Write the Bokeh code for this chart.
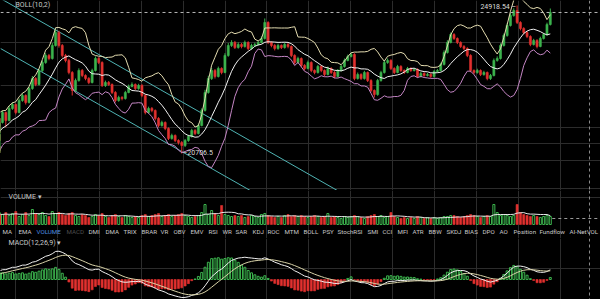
import numpy as np
import pandas as pd
from bokeh.plotting import figure
from bokeh.models import Range1d, Label, Span, FixedTicker, ColumnDataSource, Grid
from bokeh.layouts import column
from bokeh.embed import file_html
from bokeh.resources import INLINE

# ---------------- data ----------------
bar_index = list(range(-12, 166))

opens = [20850, 20792, 20906, 20735, 21077, 21247, 21077, 21418, 21532, 21304, 21703, 21475,
         21589, 21874, 21646, 21987, 22101, 21874, 22215, 22357, 22158, 22556,
         22841, 22670, 23069, 23296, 23496, 23410, 23780, 24150, 23780, 23496,
         23353, 23012, 22500, 22784, 23069, 22926, 22841, 22727, 23069, 23410,
         23296, 22642, 22727, 22670, 22443, 22215, 22300, 22272, 22443, 22613,
         22670, 22556, 22642, 22357, 21874, 21987, 21930, 21703, 21504, 21589,
         21418, 21134, 21219, 21077, 21020, 20934, 21077, 21190, 21361, 21276,
         21504, 21930, 22443, 22841, 23069, 22898, 23126, 23012, 23496, 23780,
         23866, 23723, 23809, 23752, 23866, 23695, 23780, 23809, 23866, 23980,
         24435, 23866, 23780, 23695, 23780, 23723, 23809, 23752, 23496, 23296,
         23410, 23211, 23126, 23296, 23069, 23012, 23183, 23069, 22955, 23126,
         23012, 22898, 23069, 23183, 23353, 23467, 23524, 22841, 22955, 22841,
         23012, 22784, 22500, 22386, 22784, 23012, 23296, 23353, 23126, 23012,
         23183, 23069, 23012, 23126, 23069, 23097, 22898, 22983, 22926, 22955,
         22898, 23040, 23069, 23240, 23581, 23866, 24093, 23980, 23866, 23752,
         23695, 23496, 23069, 23012, 23069, 22955, 23012, 22841, 22926, 23353,
         23410, 23780, 24065, 24350, 24634, 24776, 24435, 24264, 24150, 24036,
         23809, 23923, 23752, 23980, 24093, 24378]

highs = [20900, 20960, 20950, 21120, 21300, 21290, 21470, 21580, 21560, 21750, 21720, 21640,
         21930, 21900, 22060, 22160, 22130, 22270, 22420, 22390, 22600, 22910,
         22880, 23120, 23350, 23560, 23540, 23850, 24264, 24200, 23820, 23540,
         23400, 23050, 22840, 23130, 23110, 22960, 22880, 23120, 23470, 23450,
         23330, 22780, 22770, 22700, 22480, 22350, 22340, 22490, 22670, 22730,
         22700, 22690, 22680, 22390, 22040, 22030, 21960, 21740, 21640, 21620,
         21450, 21270, 21250, 21110, 21060, 21120, 21240, 21410, 21400, 21560,
         21990, 22520, 22920, 23140, 23110, 23180, 23160, 23560, 23850, 23930,
         23910, 23870, 23850, 23920, 23900, 23830, 23860, 23910, 24040, 24549,
         24470, 23900, 23820, 23830, 23810, 23860, 23850, 23780, 23530, 23460,
         23440, 23250, 23350, 23330, 23100, 23230, 23220, 23100, 23180, 23160,
         23050, 23110, 23230, 23410, 23520, 23580, 23560, 23010, 22990, 23060,
         23040, 22820, 22530, 22830, 23060, 23360, 23410, 23390, 23160, 23230,
         23220, 23100, 23170, 23160, 23140, 23130, 23030, 23020, 23000, 22990,
         23080, 23110, 23290, 23640, 23930, 24150, 24130, 24010, 23900, 23790,
         23730, 23530, 23100, 23120, 23100, 23060, 23040, 22970, 23410, 23470,
         23840, 24120, 24410, 24700, 24840, 24918.54, 24470, 24300, 24190, 24070,
         23970, 23960, 24030, 24140, 24430, 24833]

lows = [20740, 20760, 20690, 20720, 21040, 21020, 21060, 21380, 21260, 21290, 21430, 21450,
        21560, 21450, 21620, 21950, 21820, 21850, 22180, 22100, 22130, 22520,
        22620, 22640, 23030, 23260, 23360, 23380, 23750, 23720, 23440, 23300,
        22960, 22357, 22460, 22750, 22880, 22790, 22680, 22700, 23040, 23250,
        22600, 22600, 22630, 22400, 22160, 22180, 22220, 22240, 22420, 22590,
        22510, 22520, 22310, 21820, 21840, 21880, 21650, 21450, 21470, 21370,
        21090, 21100, 21030, 20960, 20706.5, 20890, 21040, 21160, 21230, 21250,
        21480, 21900, 22410, 22800, 22840, 22870, 22960, 22990, 23460, 23740,
        23680, 23690, 23700, 23720, 23650, 23660, 23750, 23780, 23840, 23950,
        23820, 23730, 23640, 23660, 23680, 23690, 23700, 23450, 23240, 23260,
        23160, 23070, 23100, 23020, 22960, 22980, 23020, 22900, 22930, 22970,
        22850, 22870, 23040, 23150, 23330, 23440, 22790, 22810, 22800, 22810,
        22740, 22450, 22300, 22350, 22750, 22980, 23260, 23080, 22970, 22990,
        23030, 22970, 22990, 23030, 23040, 22860, 22870, 22890, 22900, 22860,
        22870, 23010, 23040, 23210, 23550, 23840, 23940, 23820, 23710, 23650,
        23450, 23020, 22960, 22980, 22910, 22920, 22790, 22800, 22900, 23320,
        23380, 23750, 24030, 24320, 24600, 24390, 24210, 24100, 23990, 23760,
        23780, 23700, 23730, 23950, 24060, 24350]

closes = [20792, 20906, 20735, 21077, 21247, 21077, 21418, 21532, 21304, 21703, 21475, 21589,
          21874, 21646, 21987, 22101, 21874, 22215, 22357, 22158, 22556, 22841,
          22670, 23069, 23296, 23496, 23410, 23780, 24150, 23780, 23496, 23353,
          23012, 22500, 22784, 23069, 22926, 22841, 22727, 23069, 23410, 23296,
          22642, 22727, 22670, 22443, 22215, 22300, 22272, 22443, 22613, 22670,
          22556, 22642, 22357, 21874, 21987, 21930, 21703, 21504, 21589, 21418,
          21134, 21219, 21077, 21020, 20934, 21077, 21190, 21361, 21276, 21504,
          21930, 22443, 22841, 23069, 22898, 23126, 23012, 23496, 23780, 23866,
          23723, 23809, 23752, 23866, 23695, 23780, 23809, 23866, 23980, 24435,
          23866, 23780, 23695, 23780, 23723, 23809, 23752, 23496, 23296, 23410,
          23211, 23126, 23296, 23069, 23012, 23183, 23069, 22955, 23126, 23012,
          22898, 23069, 23183, 23353, 23467, 23524, 22841, 22955, 22841, 23012,
          22784, 22500, 22386, 22784, 23012, 23296, 23353, 23126, 23012, 23183,
          23069, 23012, 23126, 23069, 23097, 22898, 22983, 22926, 22955, 22898,
          23040, 23069, 23240, 23581, 23866, 24093, 23980, 23866, 23752, 23695,
          23496, 23069, 23012, 23069, 22955, 23012, 22841, 22926, 23353, 23410,
          23780, 24065, 24350, 24634, 24776, 24435, 24264, 24150, 24036, 23809,
          23923, 23752, 23980, 24093, 24378, 24720]

volumes = [450, 400, 500, 450, 550, 500, 450, 600, 500, 550, 450, 500,
           500, 600, 450, 550, 650, 400, 500, 600, 450, 750,
           550, 500, 600, 450, 400, 650, 550, 600, 500, 450,
           550, 600, 450, 400, 500, 450, 350, 400, 500, 450,
           550, 400, 350, 450, 500, 400, 350, 450, 400, 350,
           400, 350, 450, 500, 400, 450, 500, 550, 400, 450,
           500, 400, 450, 500, 550, 450, 400, 350, 400, 450,
           600, 1000, 500, 700, 550, 450, 950, 500, 450, 400,
           450, 400, 450, 350, 400, 450, 400, 350, 500, 550,
           450, 400, 350, 400, 350, 450, 500, 400, 450, 400,
           450, 400, 350, 400, 450, 400, 350, 400, 550, 350,
           400, 350, 300, 400, 350, 400, 450, 400, 350, 300,
           400, 450, 500, 400, 450, 350, 400, 600, 400, 350,
           300, 350, 300, 350, 300, 400, 350, 300, 350, 300,
           350, 300, 350, 400, 400, 450, 450, 400, 350, 400,
           450, 500, 450, 400, 350, 400, 450, 400, 1000, 600,
           450, 500, 450, 400, 450, 1000, 600, 500, 450, 400,
           450, 400, 350, 400, 450, 400]

# drawn channel (trend) lines: bar index / price end points
trend_upper_x = [-0.6, 110]
trend_upper_p = [25118, 19161]
trend_lower_x = [-0.6, 90]
trend_lower_p = [23695, 18828]

min_label = "20706.5"
max_label = "24918.54"
boll_title = "BOLL(10,2)"
vol_title = "VOLUME \u25be"
macd_title = "MACD(12,26,9) \u25be"
tab_names = ["MA", "EMA", "VOLUME", "MACD", "DMI", "DMA", "TRIX", "BRAR", "VR", "OBV", "EMV",
             "RSI", "WR", "SAR", "KDJ", "ROC", "MTM", "BOLL", "PSY", "StochRSI", "SMI", "CCI",
             "MFI", "ATR", "BBW", "SKDJ", "BIAS", "DPO", "AO", "Position", "Fundflow", "AI-NetVOL"]

n = len(bar_index)
assert all(len(a) == n for a in (opens, highs, lows, closes, volumes))

# ---------------- indicators ----------------
df = pd.DataFrame({"x": bar_index, "open": opens, "high": highs, "low": lows,
                   "close": closes, "vol": volumes})
mid = df["close"].rolling(10).mean()
sd = df["close"].rolling(10).std(ddof=0)
df["bb_mid"] = mid
df["bb_up"] = mid + 2 * sd
df["bb_lo"] = mid - 2 * sd
ema12 = df["close"].ewm(span=12, adjust=False).mean()
ema26 = df["close"].ewm(span=26, adjust=False).mean()
df["dif"] = ema12 - ema26
df["dea"] = df["dif"].ewm(span=9, adjust=False).mean()
df["mh"] = 2 * (df["dif"] - df["dea"])
df["vol_ma"] = df["vol"].rolling(10).mean()
df["top"] = df[["open", "close"]].max(axis=1)
df["bottom"] = df[["open", "close"]].min(axis=1)
df["up"] = df["close"] >= df["open"]

UP = "#3cb44e"
DOWN = "#e2312f"
df["color"] = np.where(df["up"], UP, DOWN)

# ---------------- layout constants ----------------
W = 600
BAR_PX = 3.32
X0_PX = 2.0
x_range = Range1d(-X0_PX / BAR_PX, (W - X0_PX) / BAR_PX)
P_TOP = 25060.8
PPX = 28.46
MAIN_H = 190
VOL_H = 48
MACD_H = 61
BG = "#000000"
GRID = "#2c2c2c"
FONT = "Roboto"
TXT = "#c8c8c8"

grid_ticks_x = [(15 + 41.9 * i - X0_PX) / BAR_PX for i in range(14)]
cross_x = (589 - X0_PX) / BAR_PX


def base_fig(h, yr):
    f = figure(width=W, height=h, x_range=x_range, y_range=yr, output_backend="svg",
               toolbar_location=None, x_axis_location=None, y_axis_location=None,
               min_border=0, background_fill_color=BG, border_fill_color=BG,
               outline_line_color=None)
    f.grid.visible = False
    f.add_layout(Grid(dimension=0, ticker=FixedTicker(ticks=grid_ticks_x),
                      grid_line_color=GRID, grid_line_width=1))
    f.add_layout(Span(location=cross_x, dimension="height", line_color="#8a8a8a",
                      line_dash="3 3", line_width=1))
    return f


# ---------------- main price panel ----------------
p = base_fig(MAIN_H, Range1d(P_TOP - MAIN_H * PPX, P_TOP))
main_grid_px = [42, 85, 127, 143, 160, 188]
p.add_layout(Grid(dimension=1, ticker=FixedTicker(ticks=[P_TOP - y * PPX for y in main_grid_px]),
                  grid_line_color=GRID, grid_line_width=1))

src = ColumnDataSource(df)
p.line(trend_upper_x, trend_upper_p, line_color="#4fb3b3", line_width=1)
p.line(trend_lower_x, trend_lower_p, line_color="#4fb3b3", line_width=1)

p.segment(x0="x", y0="low", x1="x", y1="high", line_color="color", line_width=1, source=src)
p.vbar(x="x", width=0.62, top="top", bottom="bottom", fill_color="color",
       line_color="color", line_width=0.6, source=src)

p.line("x", "bb_up", source=src, line_color="#e4dcb0", line_width=1)
p.line("x", "bb_mid", source=src, line_color="#f2f2f2", line_width=1)
p.line("x", "bb_lo", source=src, line_color="#c586c5", line_width=1)

p.add_layout(Span(location=closes[-1], dimension="width", line_color="#b8b8b8",
                  line_dash="3 3", line_width=1))

# extreme-price markers, searched only over the visible bars
vis = df[df["x"] >= 0]
row_min = vis.loc[vis["low"].idxmin()]
row_max = vis.loc[vis["high"].idxmax()]
p.add_layout(Label(x=float(row_min["x"]), y=float(row_min["low"]), text="\u2013" + min_label,
                   text_align="left", text_baseline="middle", x_offset=1,
                   text_font=FONT, text_font_size="7px", text_color="#dddddd"))
p.add_layout(Label(x=float(row_max["x"]), y=float(row_max["high"]), text=max_label + " \u2013",
                   text_align="right", text_baseline="middle", x_offset=-1, y_offset=-2,
                   text_font=FONT, text_font_size="7px", text_color="#dddddd"))
p.add_layout(Label(x=15, y=MAIN_H - 4.5, x_units="screen", y_units="screen", text=boll_title,
                   text_font=FONT, text_font_size="7px", text_color=TXT, text_baseline="middle"))

# ---------------- volume panel + tabs ----------------
VPX = 50.0          # volume units per pixel
VBASE = 14          # baseline pixels above panel bottom
pv = base_fig(VOL_H, Range1d(-VBASE * VPX, (VOL_H - VBASE) * VPX))
pv.add_layout(Grid(dimension=1, ticker=FixedTicker(ticks=[(VOL_H - VBASE - 7) * VPX]),
                   grid_line_color=GRID, grid_line_width=1))
up_src = ColumnDataSource(df[df["up"]])
dn_src = ColumnDataSource(df[~df["up"]])
pv.vbar(x="x", width=0.6, top="vol", bottom=0, fill_color=None, line_color=UP,
        line_width=1, source=up_src)
pv.vbar(x="x", width=0.62, top="vol", bottom=0, fill_color=DOWN, line_color=DOWN,
        line_width=0.6, source=dn_src)
pv.line("x", "vol_ma", source=src, line_color="#e8e8e8", line_width=1)
pv.segment(x0=[bar_index[-1] + 0.6], y0=[300], x1=[x_range.end], y1=[300],
           line_color="#9a9a9a", line_dash="3 3", line_width=1)
pv.add_layout(Label(x=8, y=VOL_H - 6, x_units="screen", y_units="screen", text=vol_title,
                    text_font=FONT, text_font_size="7px", text_color=TXT, text_baseline="middle"))
tab_x = [2, 18, 36, 66, 88, 105, 123, 141, 160, 173, 190, 208, 222, 235, 252, 267, 284,
         303, 322, 337, 367, 382, 397, 412, 428, 446, 464, 482, 499, 513, 539, 569]
for name, tx in zip(tab_names, tab_x):
    col = TXT
    if name == "VOLUME":
        col = "#4d8fe0"
    elif name == "MACD":
        col = "#4e4e4e"
    pv.add_layout(Label(x=tx, y=7, x_units="screen", y_units="screen", text=name,
                        text_font=FONT, text_font_size="6.2px", text_color=col,
                        text_baseline="middle"))

# ---------------- MACD panel ----------------
maxpos = max(vis["dif"].max(), vis["dea"].max(), vis["mh"].max())
minneg = min(vis["dif"].min(), vis["dea"].min(), vis["mh"].min())
s = max(maxpos / 31.0, -minneg / 18.0)
ZERO_UP = 20
pm = base_fig(MACD_H, Range1d(-ZERO_UP * s, (MACD_H - ZERO_UP) * s))
pm.add_layout(Grid(dimension=1, ticker=FixedTicker(ticks=[(ZERO_UP - 9) * s]),
                   grid_line_color=GRID, grid_line_width=1))
hpos = ColumnDataSource(df[df["mh"] >= 0])
hneg = ColumnDataSource(df[df["mh"] < 0])
pm.vbar(x="x", width=0.6, top="mh", bottom=0, fill_color=None, line_color=UP,
        line_width=1, source=hpos)
pm.vbar(x="x", width=0.62, top=0, bottom="mh", fill_color=DOWN, line_color=DOWN,
        line_width=0.6, source=hneg)
pm.line("x", "dif", source=src, line_color="#f0f0f0", line_width=1)
pm.line("x", "dea", source=src, line_color="#d9d3a8", line_width=1)
pm.add_layout(Label(x=8, y=MACD_H - 4.5, x_units="screen", y_units="screen", text=macd_title,
                    text_font=FONT, text_font_size="7px", text_color=TXT, text_baseline="middle"))

layout = column(p, pv, pm, spacing=0, styles={"background-color": "#000000"})
html = file_html(layout, INLINE)
html = html.replace("<body>", "<body style=\"margin:0;background:#000000;\">")
open("out.html", "w").write(html)
